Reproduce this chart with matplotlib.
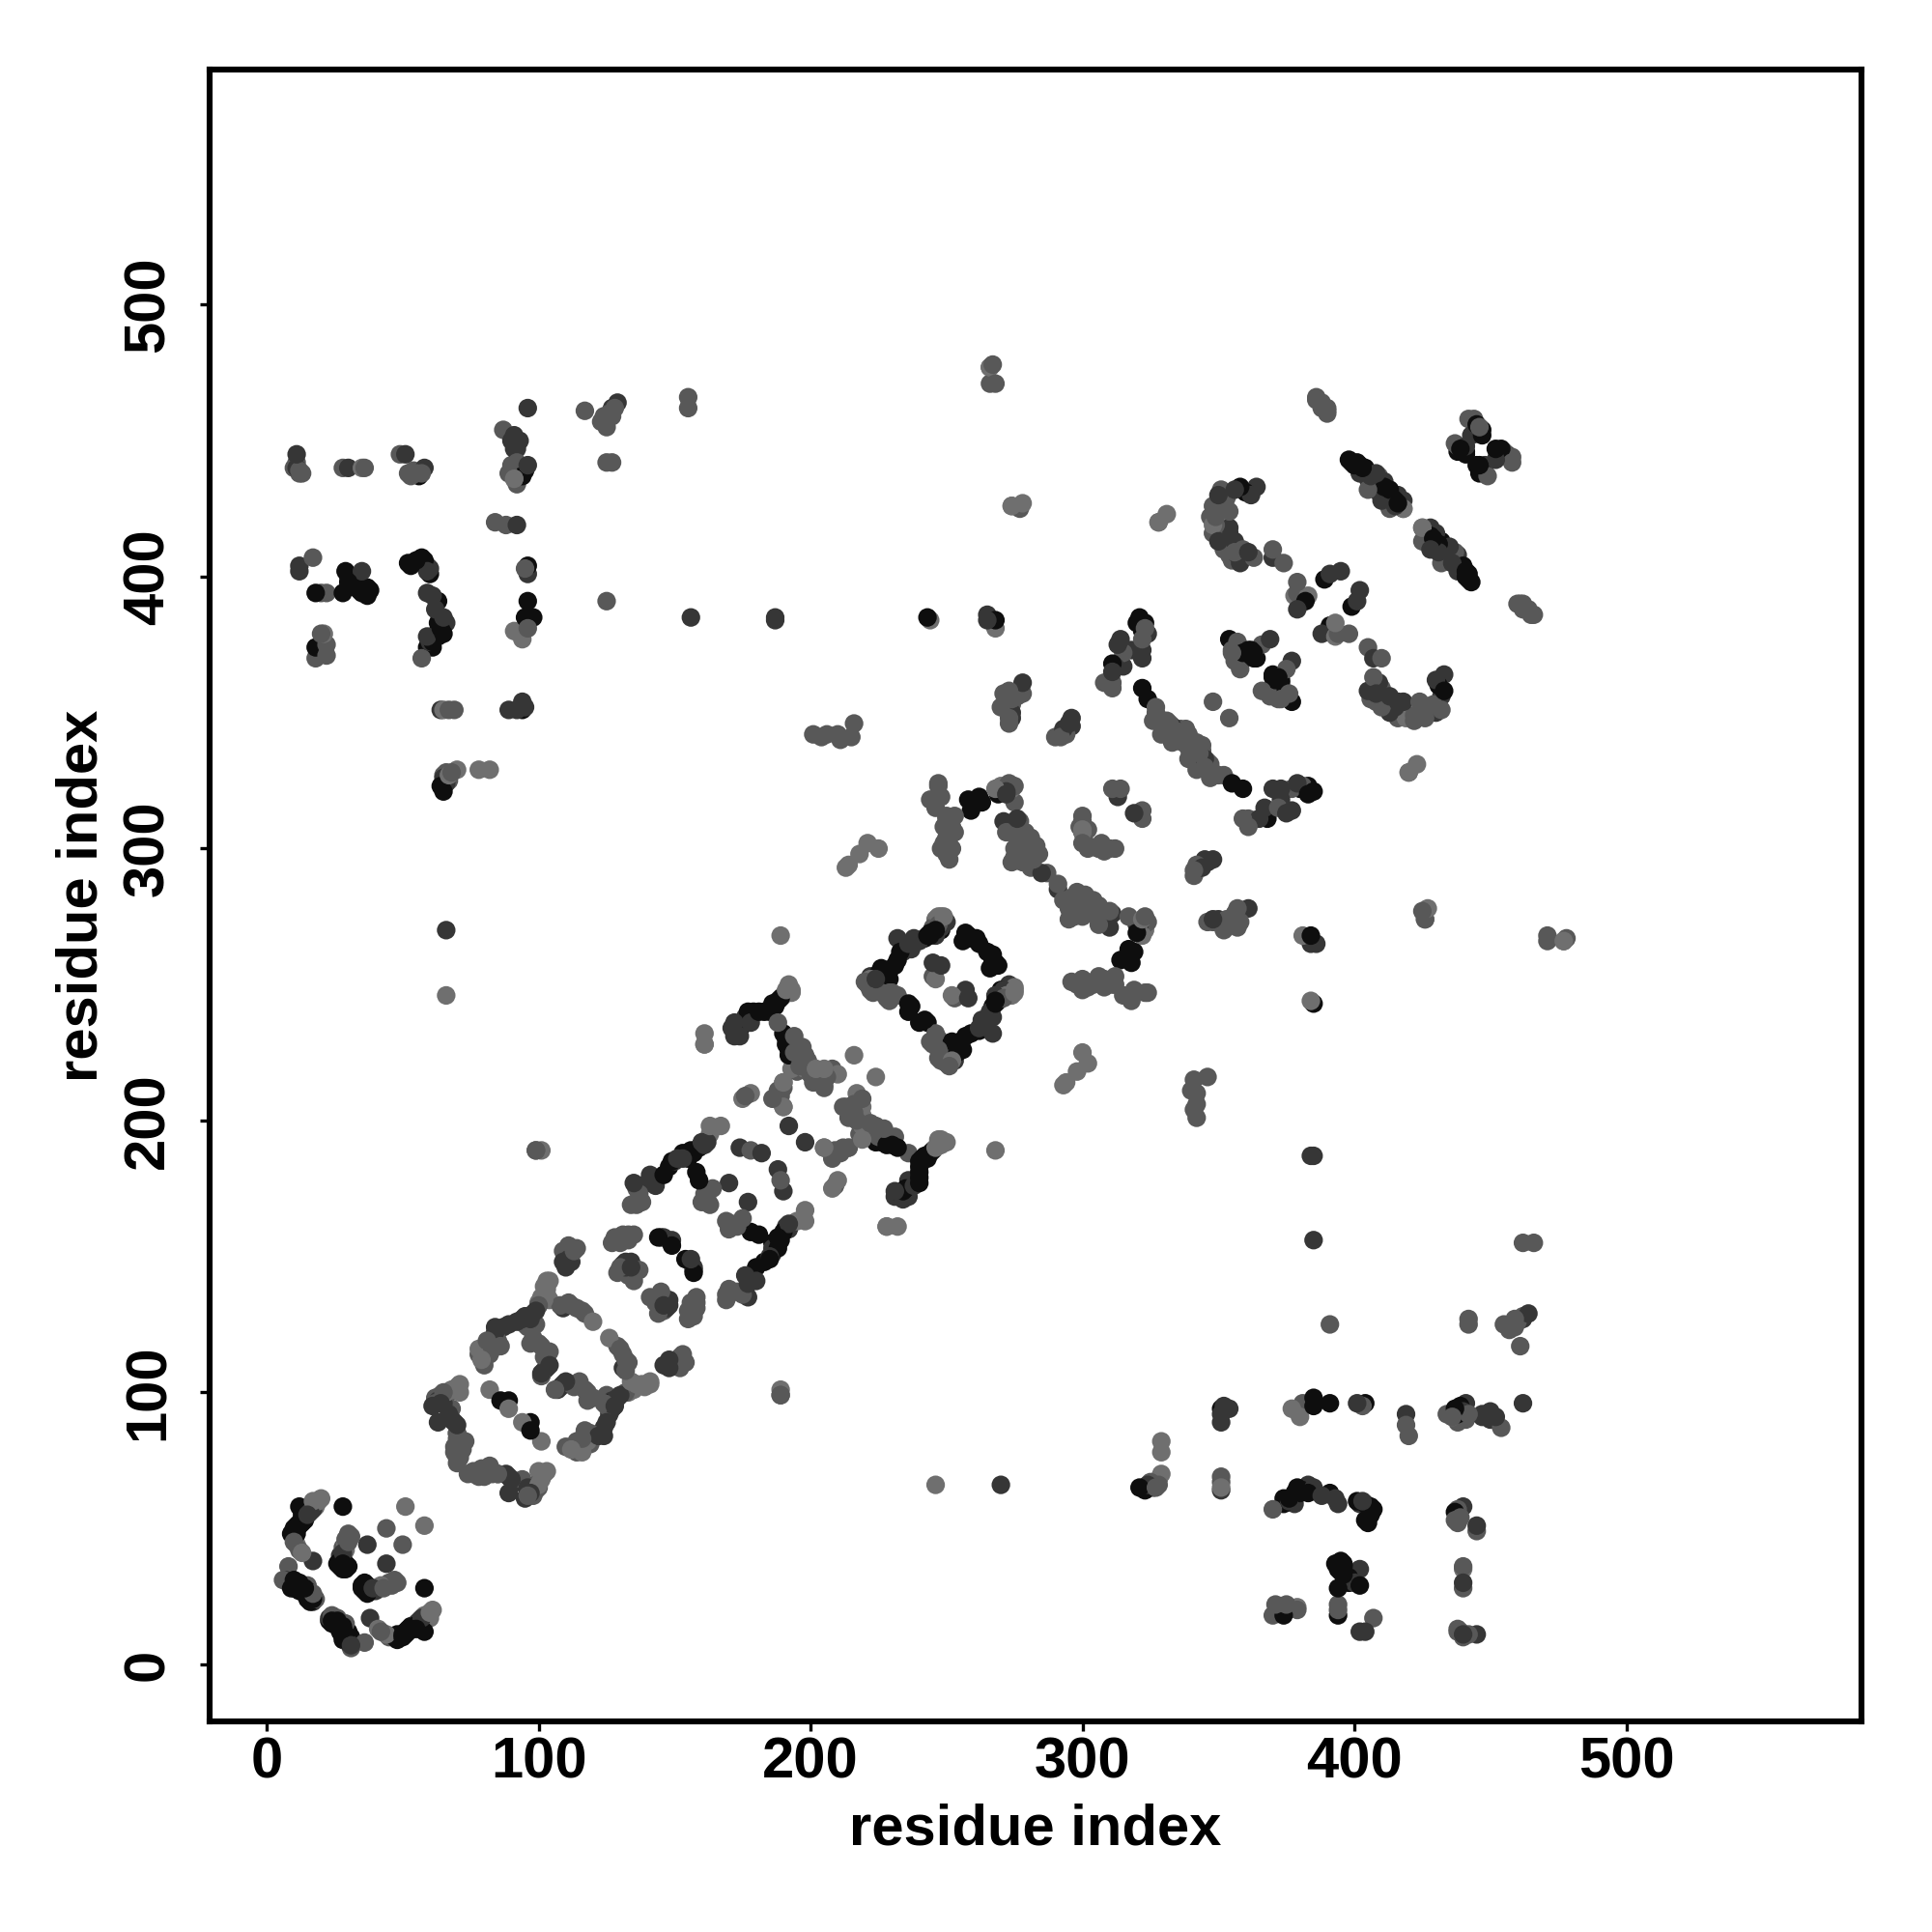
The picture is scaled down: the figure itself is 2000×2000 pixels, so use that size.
import matplotlib
matplotlib.use("Agg")
import matplotlib.pyplot as plt

x_ticks = [0, 100, 200, 300, 400, 500]
y_ticks = [0, 100, 200, 300, 400, 500]
axis_title = "residue index"

dark_pairs = [
    (9,48),(10,49),(11,50),(12,51),(13,52),(14,53),(12,58),(28,58),(27,38),(27,37),(28,36),(29,35),(30,36),(29,37),
    (9,29),(10,28),(11,28),(12,27),(13,27),(14,26),(15,25),(16,23),(24,17),(26,16),(28,14),(29,12),(30,10),
    (89,97),(86,97),(96,126),(149,154),(146,180),(156,189),(158,181),(159,178),(155,186),
    (188,244),(185,240),(181,240),(177,240),(174,234),(190,232),(192,224),
    (226,256),(229,255),(232,259),(244,269),(257,268),(261,267),(257,269),(236,243),(236,240),(229,252),
    (258,318),(262,319),(269,320),(263,317),(259,314),(268,384),(321,385),(311,368),(322,359),(324,355),
    (354,377),(359,372),(363,372),(363,370),(364,370),(362,373),(358,433),(360,431),(389,399),(382,391),
    (447,454),(440,446),(439,447),(399,442),(402,441),(404,440),(413,432),(414,429),(401,442),
    (18,374),(18,394),(28,394),(29,402),(32,398),(35,394),(38,395),(36,396),
    (53,404),(57,407),(60,401),(63,391),(64,381),(63,378),(59,374),(95,439),(96,391),(95,385),(98,385),(94,351),
    (64,323),(65,321),(56,437),(243,385),(96,404),
    (10,50),(11,51),(12,52),(13,53),(14,54),(10,47),(11,48),(13,55),(27,36),(28,37),(28,35),(29,36),(26,37),
    (9,28),(11,29),(13,28),(14,27),(15,26),(16,24),(17,24),(12,28),(15,24),(25,15),(27,15),(28,13),(29,11),(31,10),(30,12),
    (144,157),(183,240),(179,240),(187,242),(186,243),(186,241),(175,235),(173,233),(189,245),(225,254),(227,253),(231,257),
    (233,262),(243,268),(242,267),(258,268),(259,267),(265,262),(256,266),(268,258),(237,242),(191,230),(191,228),(192,226),
    (398,443),(400,441),(403,440),(411,433),(412,431),(415,428),(416,427),(441,446),(441,445),(438,446),(445,456),(447,452),
    (355,376),(361,371),(361,373),(362,371),(52,405),(55,406),(58,406),(59,404),(63,383),(65,379),(61,376),(61,374),(63,380),
    (30,398),(33,396),(34,395),(37,396),(37,393),(94,437),(92,438),(323,383),(322,380),(320,383),(248,270),(246,270),(244,268),
    (149,185),(153,188),(155,187),(157,188),(159,190),(148,183),
]
darkmid_pairs = [
    (17,38),(7,31),(8,30),(15,55),(16,56),(17,57),(27,40),(28,41),(28,39),(37,44),(12,28),(23,17),
    (63,97),(65,98),(63,89),(67,92),(69,89),(84,124),(89,125),(94,127),(97,128),(102,108),(101,107),(110,146),(109,148),(109,131),
    (145,157),(149,156),(132,148),(134,146),(135,177),(141,180),(150,185),(153,186),(160,192),(170,177),(174,190),(182,188),
    (192,198),(176,238),(171,234),(172,231),(174,231),(232,267),(236,265),(248,257),(245,258),(240,266),
    (265,384),(278,361),(274,348),(296,348),(295,346),(314,377),(315,367),(322,373),(369,377),(333,345),
    (271,310),(276,311),(285,291),(313,319),(354,418),(350,413),(356,413),(358,405),(370,407),(379,388),(391,401),(395,402),(364,433),
    (11,445),(11,440),(30,440),(51,445),(58,440),(91,452),(91,447),(96,441),(96,462),(129,464),(127,462),
    (92,419),(12,404),(12,402),(30,400),(35,402),(60,403),(59,394),(65,385),(59,378),(96,401),
    (64,351),(89,351),(94,354),(156,385),(187,385),(187,384),(66,270),(411,435),(418,428),
    (408,438),(409,431),(405,436),(272,321),(65,326),(66,324),
    (110,147),(111,149),(112,148),(84,122),(87,124),(92,126),(95,128),(98,129),(99,130),(97,127),(104,110),(103,109),
    (64,96),(61,95),(65,96),(68,90),(70,88),(132,146),(134,148),(131,147),(146,157),(143,176),(140,177),(151,186),(161,191),(162,192),
    (176,236),(172,236),(178,236),(222,253),(224,249),(224,252),(234,262),(238,267),(237,263),(250,273),(246,268),(248,271),
    (272,320),(271,322),(313,375),(318,373),(350,430),(356,432),(354,416),(352,415),(361,409),(357,408),(362,430),(265,386),
    (274,350),(293,344),(296,345),(311,365),(312,367),(322,370),(324,379),(90,450),(93,450),(92,447),(93,440),
    (59,402),(61,393),(62,388),(64,385),(66,383),(60,376),(402,438),(406,437),(406,434),(410,433),(416,430),(415,426),(410,428),
    (92,351),(95,352),(441,448),(443,452),
]
mid_pairs = [
    (44,50),(30,48),(29,46),(18,24),(15,29),(17,26),(6,31),(12,42),(8,36),(10,45),
    (62,96),(66,99),(68,94),(76,70),(70,85),(71,81),(73,82),(69,80),(101,106),(103,112),(101,117),(98,120),(96,124),(85,119),(86,117),
    (112,132),(116,130),(109,152),(111,154),(114,153),(125,95),(135,158),(130,146),(137,145),(135,141),(127,155),
    (137,173),(136,169),(161,173),(163,169),(178,189),(190,205),(188,211),(198,224),(197,227),(201,214),(205,212),(205,218),(190,214),(189,211),
    (194,231),(188,236),(223,252),(221,250),(229,247),(228,245),(232,246),(245,253),(247,272),(245,271),
    (248,319),(250,311),(250,304),(250,298),(251,304),(250,312),(247,323),(247,324),(252,308),
    (273,358),(278,357),(274,353),(272,354),(273,348),(292,341),(294,342),(323,381),(322,377),(315,372),(308,361),(311,361),(311,359),
    (355,373),(358,368),(349,419),(349,425),(351,432),(355,406),(359,410),(363,407),(370,410),(374,405),(379,398),(379,394),
    (327,350),(326,347),(330,345),(338,344),(333,339),(273,324),(275,323),(279,306),(283,301),(278,301),(275,297),(280,295),
    (311,322),(314,322),(300,310),(300,306),(277,298),(280,303),(277,310),(275,317),
    (405,432),(413,425),(418,425),(409,437),(12,439),(12,438),(52,438),(55,438),(49,445),(87,454),(90,441),
    (124,459),(123,457),(125,455),(125,442),(127,442),(84,420),(88,419),(20,379),(17,407),(20,394),(22,394),
    (95,403),(96,381),(57,370),(69,351),(67,351),(22,375),(22,371),(18,370),(117,461),(155,466),(155,462),
    (348,354),(201,342),(206,342),(211,340),(210,342),(215,341),(216,346),(204,341),(189,99),(99,189),
    (348,426),(28,440),(36,440),(91,436),(125,391),(425,277),(426,274),(266,477),(266,471),(267,478),(268,471),
    (386,466),(388,464),(390,462),(390,460),(386,465),(390,461),(388,462),(442,458),(444,458),(446,455),(438,448),(437,449),
    (31,47),(30,45),(28,43),(125,457),(126,460),(128,462),(127,459),(11,442),(10,440),(13,438),(53,437),(54,439),(57,438),
    (89,438),(92,442),(92,434),(349,422),(351,426),(353,429),(347,422),(348,416),(354,424),(352,410),(354,408),(356,409),
    (271,357),(276,356),(274,355),(273,346),(290,341),(293,342),(270,352),(65,327),(67,325),(66,328),(68,328),
    (299,308),(300,312),(301,302),(307,302),(302,300),(280,298),(282,296),(279,302),(272,306),(276,304),(281,304),(284,298),
    (287,291),(278,295),(275,300),(274,295),(281,293),(355,372),(356,369),(357,376),(366,375),(366,358),
    (327,352),(328,348),(331,347),(332,346),(335,343),(336,344),(329,342),(334,341),(337,339),(339,342),
    (244,318),(246,315),(249,308),(253,306),(249,302),(252,300),(251,296),(248,300),(253,312),
    (220,251),(222,248),(223,247),(230,247),(229,244),(226,247),
    (100,132),(99,125),(104,115),(102,113),(100,118),(97,118),(111,133),(114,131),(117,129),(108,132),(78,114),(80,110),(81,119),(83,116),(82,114),(113,152),(112,151),
    (62,98),(64,99),(65,100),(69,78),(71,76),(70,83),(72,79),(74,70),(78,70),(85,70),
    (176,209),(138,170),(136,175),(134,169),(160,170),(164,175),(162,171),(196,220),(199,222),(200,217),(203,216),(206,216),(208,219),(205,213),(189,209),(186,208),(190,212),(195,218),(194,225),
    (128,157),(130,155),(131,158),(133,156),(133,158),(129,144),(133,143),
]
light_pairs = [
    (51,58),(19,60),(18,59),(16,58),(29,44),(29,42),(11,44),(13,41),
    (70,102),(68,101),(82,101),(89,94),(79,112),(78,116),(82,118),(102,134),(103,136),(103,141),(120,126),(104,141),(102,139),
    (163,195),(163,198),(167,198),(175,208),(178,210),(192,249),(190,246),(193,247),(161,232),(161,228),(193,219),(198,219),(202,219),(190,214),(190,205),
    (216,224),(205,219),(210,217),(189,268),(161,228),(249,275),(247,275),(246,252),(214,294),(218,298),(221,302),(225,300),(213,293),
    (274,426),(278,427),(328,420),(331,423),(300,306),(307,300),(328,420),(348,419),(383,393),(378,393),
    (70,329),(67,327),(78,329),(82,329),(91,436),(35,440),(94,377),(91,380),(21,379),
    (266,477),(268,381),(244,384),(66,246),(418,425),(65,351),
    (71,103),(69,101),(66,100),(71,100),(100,133),(101,135),(103,138),(104,134),(17,60),(20,61),(193,248),(192,250),(191,248),(222,252),
    (248,275),(246,274),(248,273),(246,272),(18,58),(268,322),(270,323),(274,322),(101,189),
]

tiers = [
    (dark_pairs, "#0e0e0e"),
    (darkmid_pairs, "#363636"),
    (mid_pairs, "#585858"),
    (light_pairs, "#6f6f6f"),
]

plt.rcParams["font.family"] = ["Liberation Sans", "DejaVu Sans"]
plt.rcParams["font.weight"] = "bold"

fig = plt.figure(figsize=(10, 10), dpi=200)
ax = fig.add_axes([0.1085, 0.109, 0.855, 0.855])

xs, ys, cs = [], [], []
for pairs, colour in tiers:
    for a, b in pairs:
        xs += [a, b]
        ys += [b, a]
        cs += [colour, colour]
# interleave the drawing order so that the grey levels overlap one another
n = len(xs)
order = sorted(range(n), key=lambda k: (k * 37) % 101)
ax.scatter([xs[k] for k in order], [ys[k] for k in order], s=48,
           c=[cs[k] for k in order], linewidths=0, zorder=2)

ax.set_xlim(-21, 586.5)
ax.set_ylim(-21, 586.5)
ax.set_xticks(x_ticks)
ax.set_yticks(y_ticks)
ax.tick_params(axis="both", length=3.6, width=1.2, labelsize=21.5)
ax.tick_params(axis="x", pad=1.9)
ax.tick_params(axis="y", pad=9.2)
for t in ax.get_yticklabels():
    t.set_rotation(90)
    t.set_verticalalignment("center")
for s in ax.spines.values():
    s.set_linewidth(2.2)
ax.set_xlabel(axis_title, fontsize=21.5, fontweight="bold")
ax.set_ylabel(axis_title, fontsize=21.5, fontweight="bold")
ax.xaxis.set_label_coords(0.5, -0.0495)
ax.yaxis.set_label_coords(-0.0613, 0.5)

fig.savefig("out.png", dpi=200, facecolor="white")
